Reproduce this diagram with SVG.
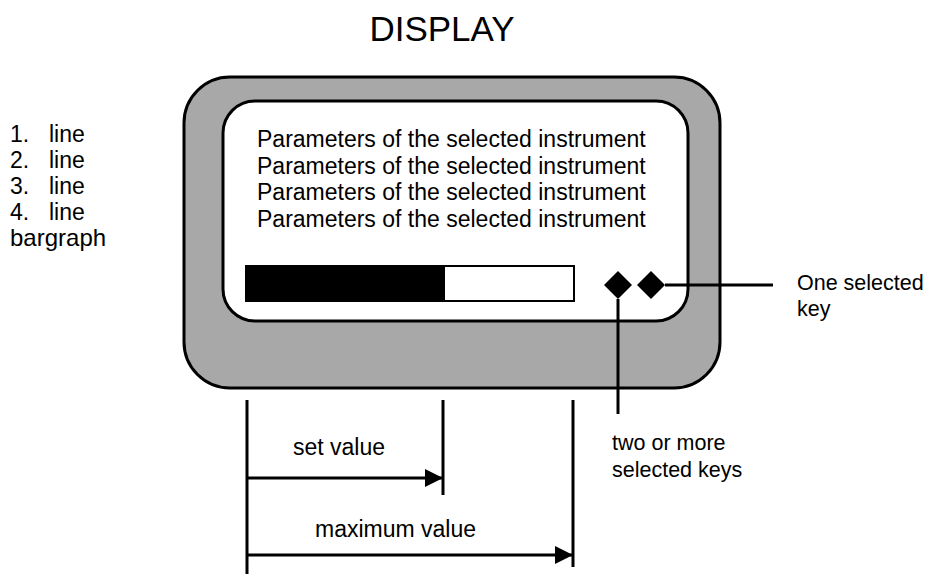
<svg xmlns="http://www.w3.org/2000/svg" width="928" height="574" viewBox="0 0 928 574">
  <style>
    text { font-family: "Liberation Sans", Arial, sans-serif; fill: #000; }
    .label { font-size: 23px; }
    .small { font-size: 21.5px; }
    .title { font-size: 35px; }
    .line { stroke: #000; stroke-width: 3; fill: none; }
  </style>
  <defs>
    <marker id="arrow" viewBox="0 0 18 18" refX="18" refY="9" markerWidth="18" markerHeight="18" markerUnits="userSpaceOnUse" orient="auto">
      <path d="M0,0 L18,9 L0,18 Z" fill="#000"/>
    </marker>
  </defs>
  <rect width="928" height="574" fill="#fff"/>

  <text id="title" class="title" x="442" y="41" text-anchor="middle">DISPLAY</text>

  <!-- line legend on the left -->
  <g id="legend" class="label">
    <text x="10" y="142">1.</text><text x="49" y="142">line</text>
    <text x="10" y="168">2.</text><text x="49" y="168">line</text>
    <text x="10" y="194">3.</text><text x="49" y="194">line</text>
    <text x="10" y="220">4.</text><text x="49" y="220">line</text>
    <text x="10" y="246" font-size="24">bargraph</text>
  </g>

  <!-- display housing -->
  <g id="housing">
    <rect x="184" y="77" width="536" height="311" rx="46" ry="46" fill="#a8a8a8" stroke="#000" stroke-width="3"/>
  </g>

  <!-- screen -->
  <g id="screen">
    <rect x="223" y="101" width="465" height="220" rx="32" ry="32" fill="#fff" stroke="#000" stroke-width="3"/>
    <g class="label">
      <text x="257" y="147">Parameters of the selected instrument</text>
      <text x="257" y="173.5">Parameters of the selected instrument</text>
      <text x="257" y="200">Parameters of the selected instrument</text>
      <text x="257" y="226.5">Parameters of the selected instrument</text>
    </g>
  </g>

  <!-- bargraph -->
  <g id="bargraph">
    <rect x="246" y="266" width="328" height="35" fill="#fff" stroke="#000" stroke-width="2"/>
    <rect x="246" y="266" width="199" height="35" fill="#000"/>
  </g>

  <!-- key indicators -->
  <g id="key-two">
    <path d="M618,271 L632,285 L618,299 L604,285 Z" fill="#000"/>
  </g>
  <g id="key-one">
    <path d="M651,271 L665,285 L651,299 L637,285 Z" fill="#000"/>
  </g>

  <g id="connectors">
    <line class="line" x1="665" y1="285" x2="773" y2="285"/>
    <line class="line" x1="618" y1="299" x2="618" y2="414"/>
    <line class="line" x1="247" y1="400" x2="247" y2="574"/>
    <line class="line" x1="443" y1="400" x2="443" y2="495"/>
    <line class="line" x1="573" y1="400" x2="573" y2="567"/>
    <line class="line" x1="247" y1="478" x2="443" y2="478" marker-end="url(#arrow)"/>
    <line class="line" x1="247" y1="555" x2="573" y2="555" marker-end="url(#arrow)"/>
  </g>

  <g id="key-labels" class="small">
    <text x="797" y="290">One selected</text>
    <text x="797" y="316">key</text>
    <text x="612" y="450">two or more</text>
    <text x="612" y="477">selected keys</text>
  </g>

  <g id="value-labels" class="label">
    <text x="293" y="455">set value</text>
    <text x="315" y="537">maximum value</text>
  </g>
</svg>
